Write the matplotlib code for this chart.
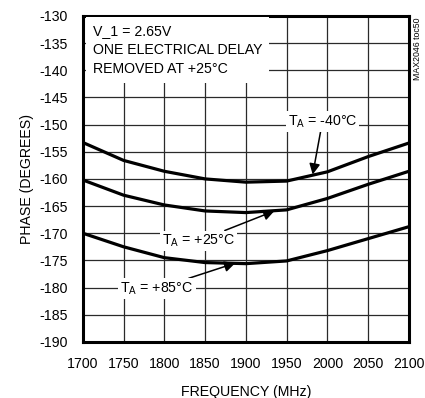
import numpy as np
import matplotlib
matplotlib.use('Agg')
import matplotlib.pyplot as plt

plt.rcParams['font.family'] = ['Liberation Sans', 'DejaVu Sans']
plt.rcParams['axes.unicode_minus'] = False
plt.rcParams['mathtext.fontset'] = 'custom'
plt.rcParams['mathtext.rm'] = 'Liberation Sans'

# data
freq = [1700, 1750, 1800, 1850, 1900, 1950, 2000, 2050, 2100]
phase_m40 = [-153.3, -156.6, -158.6, -160.0, -160.6, -160.4, -158.7, -155.9, -153.4]
phase_p25 = [-160.2, -163.0, -164.8, -165.9, -166.2, -165.7, -163.6, -161.0, -158.6]
phase_p85 = [-170.0, -172.5, -174.5, -175.4, -175.6, -175.1, -173.2, -171.0, -168.8]

xticks = np.arange(1700, 2101, 50)
yticks = np.arange(-190, -129, 5)

fs = 10.2
fig = plt.figure(figsize=(4.25, 3.98), dpi=100)
ax = fig.add_axes([0.195, 0.141, 0.767, 0.819])

for y in phase_m40, phase_p25, phase_p85:
    ax.plot(freq, y, color='black', lw=2.3, zorder=3, solid_capstyle='butt')

ax.set_xlim(1700, 2100)
ax.set_ylim(-190, -130)
ax.set_xticks(xticks)
ax.set_yticks(yticks)
ax.grid(True, color='#2a2a2a', lw=0.9)
ax.tick_params(axis='y', length=0, labelsize=fs, pad=11)
ax.tick_params(axis='x', length=0, labelsize=fs, pad=11)
for s in ax.spines.values():
    s.set_linewidth(2.2)

ax.set_xlabel('FREQUENCY (MHz)', fontsize=fs, labelpad=10)
ax.set_ylabel('PHASE (DEGREES)', fontsize=fs, labelpad=4)

# header box
ax.text(0.03, 0.975, 'V_1 = 2.65V\nONE ELECTRICAL DELAY\nREMOVED AT +25\u00b0C',
        transform=ax.transAxes, ha='left', va='top', fontsize=fs, linespacing=1.45,
        zorder=4, bbox=dict(facecolor='white', edgecolor='none', pad=5))

bb = dict(facecolor='white', edgecolor='none', pad=1.5)
arrow = dict(arrowstyle='-|>', color='black', lw=1.1, mutation_scale=16, shrinkA=0, shrinkB=0)
ax.annotate('T$_\\mathregular{A}$ = -40\u00b0C', xy=(1982, -159.2), xytext=(1994, -149.4),
            ha='center', va='center', fontsize=fs, bbox=bb, zorder=5, arrowprops=arrow)
ax.annotate('T$_\\mathregular{A}$ = +25\u00b0C', xy=(1935, -165.9), xytext=(1842, -171.4),
            ha='center', va='center', fontsize=fs, bbox=bb, zorder=5, arrowprops=arrow)
ax.annotate('T$_\\mathregular{A}$ = +85\u00b0C', xy=(1887, -175.5), xytext=(1791, -180.2),
            ha='center', va='center', fontsize=fs, bbox=bb, zorder=5, arrowprops=arrow)

fig.text(0.983, 0.955, 'MAX2046 toc50', rotation=90, ha='center', va='top', fontsize=6.3)

fig.savefig('out.png', dpi=100)
